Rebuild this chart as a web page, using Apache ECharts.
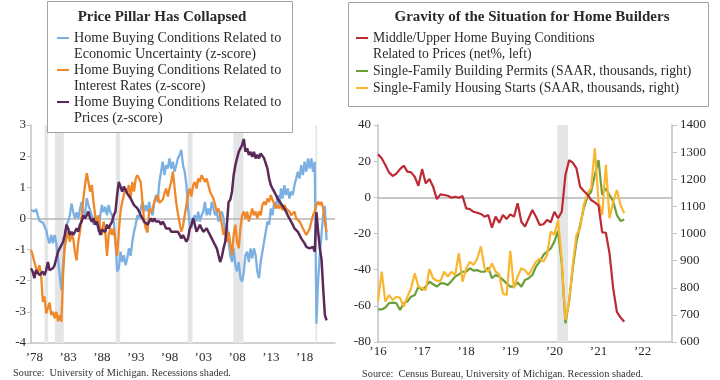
<!DOCTYPE html>
<html><head><meta charset="utf-8">
<script src="https://cdn.jsdelivr.net/npm/echarts@6/dist/echarts.min.js"></script>
<style>html,body{margin:0;padding:0;background:#fff}#c{width:720px;height:380px}</style>
</head><body><div id="c"></div>
<script>
// ---------- LEFT CHART DATA (quarterly samples from 1978.0) ----------
const leftStart = 1978.0;
const leftStep = 0.25;
const uncertaintyZ = [
0.27,0.33,0.22,0.3,0.1,-0.08,-0.13,-0.13,
-0.15,-0.37,-0.64,-0.8,-0.53,-0.8,-0.53,-0.8,
-1.28,-1.82,-2.3,-1.5,-0.75,-0.2,-0.1,0.1,
0.48,0.2,0,0.2,0,0.3,0.53,0.2,
0.1,0.65,0.43,0.37,0.1,-0.2,0.1,-0.1,
-0.43,0.1,0.43,0.2,0.37,0.1,0.43,0.2,
0.1,-0.1,-0.75,-1.7,-1.6,-1.07,-1.4,-1.18,
-1.5,-1.28,
-0.96,-1.2,-0.75,-0.43,-0.2,0.1,0,0.32,
0.53,0.22,0.43,0.22,0.53,0.22,0.1,0.53,
0.75,0.53,1.17,1.5,1.82,1.39,1.71,1.6,
1.93,1.6,1.82,1.5,1.71,1.93,2.04,2.2,
1.71,1.5,1.07,0.32,-0.2,-0.32,0,0.1,
-0.1,0.22,-0.1,0.1,0.22,0.53,0.1,0.32,
0.1,0.53,0.32,0.1,0.22,-0.1,0.1,0.22,
0,-0.43,-0.2,-0.75,
-1.2,-1.4,-0.96,-1.5,-1.7,-1.4,-1.92,-2.03,
-1.71,-1.18,-1.07,-1.4,-0.96,-1.28,-0.96,-1.18,
-1.71,-1.92,-1.4,-1.07,-0.75,-0.43,-0.1,-0.2,
0.32,0.1,0.53,0.32,0.75,0.43,0.96,0.64,
1.07,0.75,0.96,0.64,0.86,0.75,1.07,1.28,
1.5,1.28,1.71,1.39,1.82,1.5,1.93,1.6,
1.93,1.5,1.82,-3.38,-2.0,-1.18,-0.5,0.1,
0.4,-0.7
];
const ratesZ = [
-1.02,-1.18,-1.4,-1.6,-1.71,-1.5,-1.82,-2.68,
-2.5,-3.05,-3.1,-2.7,-3.1,-3.0,-3.2,-3.0,
-3.3,-3.1,-3.32,-1.8,-0.9,-0.64,-0.43,-0.75,
-0.53,-0.64,-1.07,-1.35,-0.75,-0.43,0.1,0.64,
1.07,1.45,1.17,0.86,1.07,0.53,0.1,-0.2,
0.1,-0.32,-0.53,-0.1,-0.43,-1.2,-0.53,-0.32,
-0.53,-0.32,-0.75,-1.2,-0.43,0.22,0.53,0.75,
0.96,0.86,
1.07,0.64,1.17,0.86,1.28,1.39,1.39,1.17,
0.53,-0.1,-0.32,-0.45,0.3,0.2,0.3,0.53,
0.5,0.75,0.5,0.5,0.6,0.8,0.96,0.7,
0.96,1.17,1.5,1.0,0.5,0.15,-0.15,-0.43,
-0.25,0.1,0.43,0.75,0.96,0.7,1.07,1.17,
0.96,1.28,1.17,1.39,1.28,1.17,1.28,1.07,
0.86,0.86,0.64,0.43,0.22,0.32,0.1,-0.2,
-0.53,-0.32,-0.75,-0.43,
-0.8,-1.18,-0.53,-0.2,-0.75,-0.96,-0.32,0.1,
0.22,0,0.22,-0.1,0.1,0.32,0.1,0.22,
0,0.22,0.1,0.43,0.53,0.43,0.64,0.53,
0.75,0.59,0.48,0.32,0.43,0.32,0.43,0.27,
0.43,0.32,0.37,0.22,0.1,0.16,0.22,0,
0.05,-0.1,-0.2,-0.32,-0.43,-0.53,-0.43,-0.32,
-0.1,0.1,0.22,0.43,0.53,0.43,0.53,0.32,
-0.1,-0.43
];
const pricesZ = [
-1.6,-1.71,-1.92,-1.66,-1.71,-1.82,-1.76,-1.71,
-1.82,-1.66,-1.4,-1.66,-1.71,-1.6,-1.5,-1.28,
-1.07,-0.96,-0.86,-0.75,-0.53,-0.2,-0.32,-0.53,
-0.43,-0.53,-0.43,-0.32,-0.43,-0.2,-0.1,0.1,
0,0.1,0.22,0,-0.1,0,-0.2,-0.1,
-0.32,-0.53,-0.37,-0.32,-0.43,-0.2,-0.32,-0.2,
-0.1,0.1,0.22,0.75,1.17,1.02,0.86,1.02,
0.91,0.8,
0.75,0.64,0.53,0.43,0.48,0.32,0.22,0.1,
0,-0.1,-0.05,-0.2,-0.1,0,-0.1,0,
-0.1,-0.05,-0.1,-0.2,-0.1,-0.2,-0.32,-0.27,
-0.32,-0.43,-0.37,-0.43,-0.48,-0.43,-0.53,-0.64,
-0.53,-0.64,-0.75,-0.64,-0.32,-0.2,0,-0.2,
-0.43,-0.32,-0.2,-0.32,-0.43,-0.37,-0.32,-0.43,
-0.53,-0.64,-0.75,-0.86,-0.96,-1.18,-1.4,-1.23,
-0.96,-0.75,-0.2,0.53,
0.6,0.86,1.39,1.71,1.93,2.14,2.25,2.36,
2.55,2.14,2.25,2.04,2.14,1.98,2.14,1.93,
2.04,1.93,2.09,2.04,1.93,1.77,1.6,1.28,
1.07,0.96,0.86,0.75,0.64,0.59,0.48,0.43,
0.32,0.22,0.1,0,-0.1,-0.2,-0.32,-0.37,
-0.43,-0.53,-0.64,-0.7,-0.8,-0.91,-0.86,-0.96,
-1.02,-0.91,-1.07,0.2,-0.4,-0.96,-1.3,-2.25,
-3.1,-3.27
];
const leftNames = [
  'Home Buying Conditions Related to\nEconomic Uncertainty (z-score)',
  'Home Buying Conditions Related to\nInterest Rates (z-score)',
  'Home Buying Conditions Related to\nPrices (z-score)'
];
const leftRecessions = [[1980.0,1980.55],[1981.55,1982.85],[1990.55,1991.2],[2001.2,2001.9],[2007.95,2009.45],[2020.1,2020.35]];
const leftTickYears = [1978.5,1983.5,1988.5,1993.5,1998.5,2003.5,2008.5,2013.5,2018.5];
const leftTickLabels = ['\u201978','\u201983','\u201988','\u201993','\u201998','\u201903','\u201908','\u201913','\u201918'];
const leftTitle = 'Price Pillar Has Collapsed';
const leftSource = 'Source:  University of Michigan. Recessions shaded.';

// ---------- RIGHT CHART DATA (monthly from Jan 2016, index = months) ----------
const pricesNet = [
23.8,21.6,17.9,13.8,11.8,13.1,15.6,17.5,14.2,13.8,11.4,6.4,
15.6,7.7,10.1,5.9,-1.0,1.6,1.3,0.9,-0.2,0.35,-0.2,0.7,
-6.1,-6.5,-8.0,-8.5,-9.2,-10.7,-9.8,-16.8,-10.7,-14.0,-9.8,-12.0,
-9.4,-10.7,-3.3,-13.5,-16.2,-11.6,-7.0,-10.7,-15.3,-14.9,-12.5,-13.8,
-8.0,-11.6,-8.0,12.3,20.5,19.2,16.0,5.9,3.5,1.6,-1.5,-2.8,
-4.5,-19.4,-19.6,-31,-50.4,-63.3,-66.5,-68.8
];
const permits = [
720,720,727,743,745,743,718,743,749,767,773,804,
792,804,822,813,804,816,816,810,825,841,849,859,
859,872,863,865,859,859,874,835,847,841,829,816,
804,804,819,804,829,835,847,878,896,921,933,945,
970,1010,890,669,749,872,970,1031,1093,1136,1154,1216,
1271,1142,1167,1142,1118,1068,1046,1052
];
const starts = [
749,859,749,773,755,767,763,730,767,798,853,804,
798,792,869,835,825,825,859,841,859,847,927,822,
872,896,884,908,952,872,859,890,859,849,779,773,
936,798,841,872,865,847,872,896,908,896,921,1007,
995,1050,900,681,749,884,995,1019,1105,1148,1167,1314,
1117,1068,1253,1056,1117,1160,1105,1074
];
const rightNames = [
  'Middle/Upper Home Buying Conditions\nRelated to Prices (net%, left)',
  'Single-Family Building Permits (SAAR, thousands, right)',
  'Single-Family Housing Starts (SAAR, thousands, right)'
];
const rightRecession = [[48.8,51.7]];
const rightTickMonths = [0,12,24,36,48,60,72];
const rightTickLabels = ['\u201916','\u201917','\u201918','\u201919','\u201920','\u201921','\u201922'];
const rightTitle = 'Gravity of the Situation for Home Builders';
const rightSource = 'Source:  Census Bureau, University of Michigan. Recession shaded.';

// ---------- CHART ----------
const FONT = 'Liberation Serif';
const AXIS = '#c2c2c2';
const TXT = '#2a2a2a';
function series(start, step, vals) { return vals.map((v, i) => [start + i * step, v]); }
const axisLine = {show: true, onZero: false, lineStyle: {color: AXIS, width: 1.5}};
const lbl = (extra) => Object.assign({color: TXT, fontFamily: FONT, fontSize: 13}, extra);
const zeroLine = {silent: true, symbol: 'none', z: 1, label: {show: false}, lineStyle: {color: '#b5b5b5', width: 1.5, type: 'solid'}, data: [{yAxis: 0}]};
// leading blank line puts the legend marker level with the first text line
const firstLineMarker = n => '\n' + n;

const chart = echarts.init(document.getElementById('c'), null, {renderer: 'canvas'});
chart.setOption({
  animation: false,
  backgroundColor: '#fff',
  grid: [
    {left: 31, top: 125, width: 304, height: 218},
    {left: 378, top: 125, width: 294, height: 217}
  ],
  xAxis: [
    {gridIndex: 0, type: 'value', min: 1978, max: 2023, axisLine, axisTick: {show: false}, splitLine: {show: false},
     axisLabel: lbl({customValues: leftTickYears, margin: 8, formatter: v => leftTickLabels[leftTickYears.indexOf(v)] || ''})},
    {gridIndex: 1, type: 'value', min: 0, max: 80, axisLine, axisTick: {show: false}, splitLine: {show: false},
     axisLabel: lbl({customValues: rightTickMonths, margin: 3, formatter: v => rightTickLabels[rightTickMonths.indexOf(v)] || ''})}
  ],
  yAxis: [
    {gridIndex: 0, type: 'value', min: -4, max: 3, interval: 1, axisLine, splitLine: {show: false},
     axisTick: {show: true, inside: false, length: 4, lineStyle: {color: AXIS}}, axisLabel: lbl({margin: 5})},
    {gridIndex: 1, type: 'value', position: 'left', min: -80, max: 40, interval: 20, axisLine, splitLine: {show: false},
     axisTick: {show: true, inside: false, length: 4, lineStyle: {color: AXIS}}, axisLabel: lbl({margin: 7})},
    {gridIndex: 1, type: 'value', position: 'right', min: 600, max: 1400, interval: 100, axisLine, splitLine: {show: false},
     axisTick: {show: true, inside: false, length: 5, lineStyle: {color: AXIS}}, axisLabel: lbl({margin: 8, formatter: v => String(v)})}
  ],
  legend: [
    {data: leftNames, orient: 'vertical', left: 57, top: 14, padding: 0, itemGap: -16, itemWidth: 12, itemHeight: 2,
     icon: 'rect', selectedMode: false, z: 20, formatter: firstLineMarker,
     textStyle: {fontFamily: FONT, fontSize: 14.2, lineHeight: 16, color: TXT}},
    {data: [rightNames[0]], orient: 'vertical', left: 356, top: 14, padding: 0, itemGap: 0, itemWidth: 12, itemHeight: 2,
     icon: 'rect', selectedMode: false, z: 20, formatter: firstLineMarker,
     textStyle: {fontFamily: FONT, fontSize: 13.7, lineHeight: 16, color: TXT}},
    {data: [rightNames[1], rightNames[2]], orient: 'vertical', left: 356, top: 63, padding: 0, itemGap: 1, itemWidth: 12, itemHeight: 2,
     icon: 'rect', selectedMode: false, z: 20,
     textStyle: {fontFamily: FONT, fontSize: 13.7, lineHeight: 16, color: TXT}}
  ],
  graphic: [
    {type: 'rect', z: 10, shape: {x: 47.5, y: 1.5, width: 245, height: 131}, style: {fill: '#fff', stroke: '#a3a3a3', lineWidth: 1}},
    {type: 'text', z: 11, x: 162, y: 17, style: {text: leftTitle, font: 'bold 15px "Liberation Serif"', fill: TXT, align: 'center', verticalAlign: 'middle', textAlign: 'center', textVerticalAlign: 'middle'}},
    {type: 'rect', z: 10, shape: {x: 348.5, y: 2.5, width: 360, height: 104}, style: {fill: '#fff', stroke: '#a3a3a3', lineWidth: 1}},
    {type: 'text', z: 11, x: 532, y: 17, style: {text: rightTitle, font: 'bold 15px "Liberation Serif"', fill: TXT, align: 'center', verticalAlign: 'middle', textAlign: 'center', textVerticalAlign: 'middle'}},
    {type: 'text', z: 11, x: 13, y: 373, style: {text: leftSource, font: '10.3px "Liberation Serif"', fill: '#333', verticalAlign: 'middle', textVerticalAlign: 'middle'}},
    {type: 'text', z: 11, x: 362, y: 374, style: {text: rightSource, font: '10.3px "Liberation Serif"', fill: '#333', verticalAlign: 'middle', textVerticalAlign: 'middle'}}
  ],
  series: [
    {name: leftNames[0], type: 'line', xAxisIndex: 0, yAxisIndex: 0, data: series(leftStart, leftStep, uncertaintyZ),
     symbol: 'none', color: '#7cb0e3', lineStyle: {width: 2.3}, z: 2,
     markArea: {silent: true, itemStyle: {color: '#e4e5e7'}, data: leftRecessions.map(r => [{xAxis: r[0]}, {xAxis: r[1]}])},
     markLine: zeroLine},
    {name: leftNames[1], type: 'line', xAxisIndex: 0, yAxisIndex: 0, data: series(leftStart, leftStep, ratesZ),
     symbol: 'none', color: '#f0882a', lineStyle: {width: 2.3}, z: 3},
    {name: leftNames[2], type: 'line', xAxisIndex: 0, yAxisIndex: 0, data: series(leftStart, leftStep, pricesZ),
     symbol: 'none', color: '#5a2958', lineStyle: {width: 2.5}, z: 4},
    {name: rightNames[1], type: 'line', xAxisIndex: 1, yAxisIndex: 2, data: series(0, 1, permits),
     symbol: 'none', color: '#6a9f3a', lineStyle: {width: 2.2}, z: 2,
     markArea: {silent: true, itemStyle: {color: '#e4e5e7'}, data: rightRecession.map(r => [{xAxis: r[0]}, {xAxis: r[1]}])}},
    {name: rightNames[2], type: 'line', xAxisIndex: 1, yAxisIndex: 2, data: series(0, 1, starts),
     symbol: 'none', color: '#f9b630', lineStyle: {width: 2.2}, z: 3},
    {name: rightNames[0], type: 'line', xAxisIndex: 1, yAxisIndex: 1, data: series(0, 1, pricesNet),
     symbol: 'none', color: '#be2a33', lineStyle: {width: 2.2}, z: 4, markLine: zeroLine}
  ]
});
</script></body></html>
